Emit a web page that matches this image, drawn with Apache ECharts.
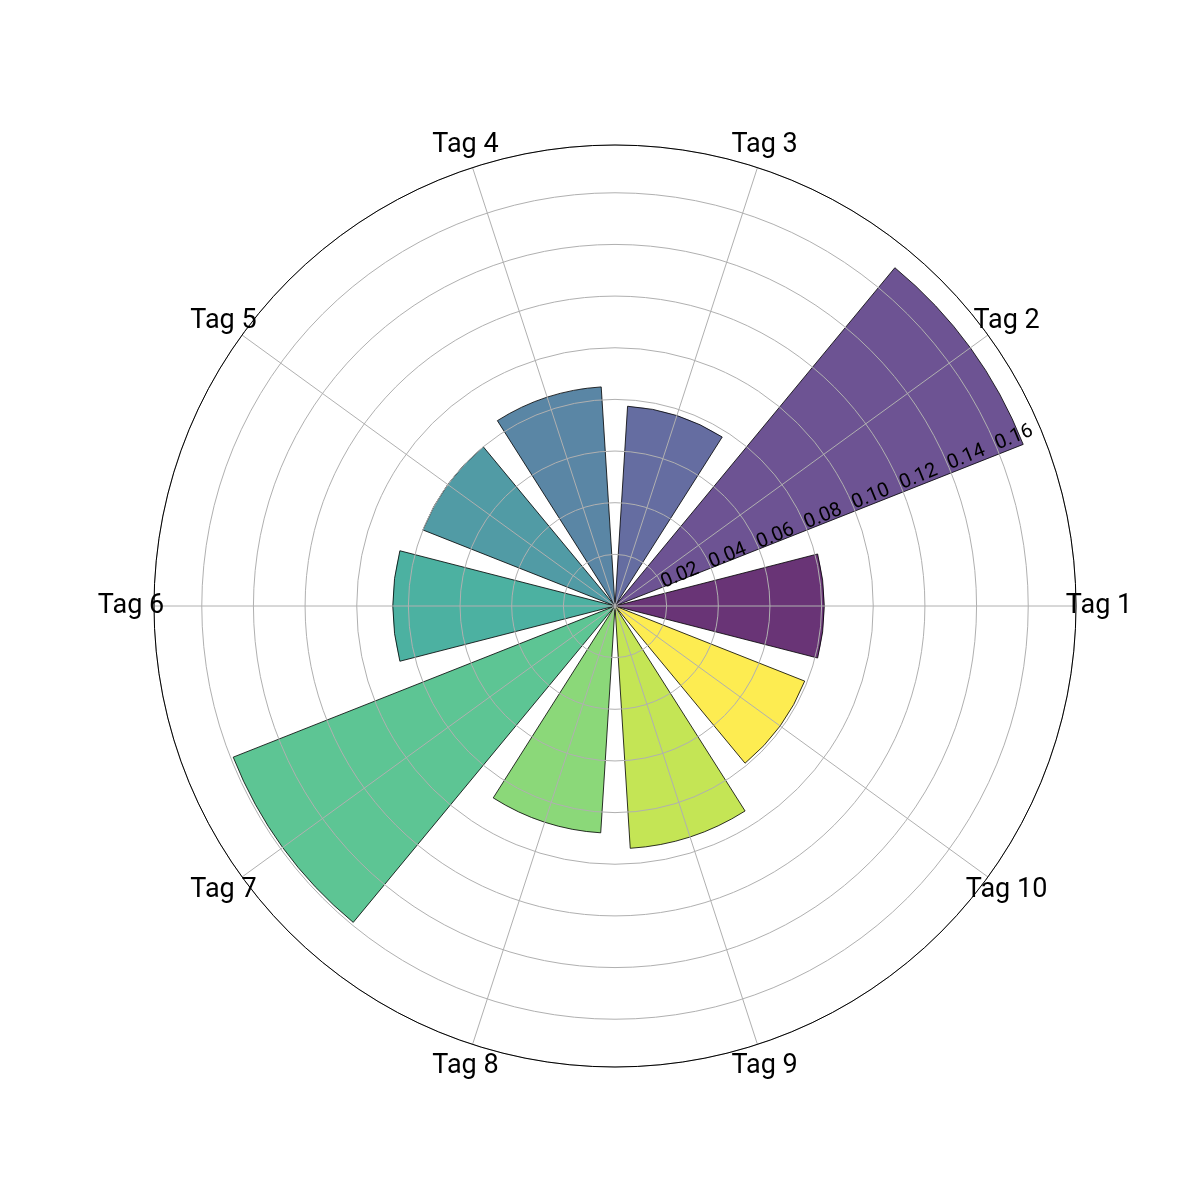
<!DOCTYPE html>
<html>
<head>
<meta charset="utf-8">
<script src="https://cdn.jsdelivr.net/npm/echarts@6/dist/echarts.min.js"></script>
<style>
  html, body { margin: 0; padding: 0; background: #fff; }
  #chart { width: 1200px; height: 1200px; }
</style>
</head>
<body>
<div id="chart"></div>
<script>
var tags = ["Tag 1", "Tag 2", "Tag 3", "Tag 4", "Tag 5", "Tag 6", "Tag 7", "Tag 8", "Tag 9", "Tag 10"];
var values = [0.081, 0.170, 0.0775, 0.085, 0.080, 0.086, 0.159, 0.088, 0.094, 0.079];
// viridis, 10 steps
var colors = ["#440154", "#482878", "#3e4989", "#31688e", "#26828e", "#1f9e89", "#35b779", "#6ece58", "#b5de2b", "#fde725"];
var radiusTicks = [0.02, 0.04, 0.06, 0.08, 0.10, 0.12, 0.14, 0.16];
var rMax = 0.1785;

var CX = 615, CY = 606, R = 461;
// tag labels sit a little outside the rim
var labelR = rMax * (R + 23) / R;

var chart = echarts.init(document.getElementById("chart"));

var option = {
  animation: false,
  backgroundColor: "#fff",
  textStyle: { fontFamily: "Roboto" },
  polar: [
    { center: [CX, CY], radius: R },   // bars
    { center: [CX, CY], radius: R },   // grid
    { center: [CX, CY], radius: R }    // radial tick labels
  ],
  angleAxis: [
    {
      polarIndex: 0,
      type: "category",
      data: tags,
      startAngle: -18,
      clockwise: false,
      z: 4,
      axisLine: { show: true, lineStyle: { color: "#000", width: 1 } },
      axisTick: { show: false },
      axisLabel: { show: false },
      splitLine: { show: false }
    },
    {
      polarIndex: 1,
      type: "value",
      min: 0,
      max: 360,
      interval: 36,
      startAngle: 0,
      clockwise: false,
      z: 3,
      axisLine: { show: false },
      axisTick: { show: false },
      axisLabel: { show: false },
      splitLine: { show: true, lineStyle: { color: "#b0b0b0", width: 1 } }
    },
    {
      polarIndex: 2,
      type: "value",
      min: 0,
      max: 360,
      startAngle: 22.5,
      clockwise: false,
      show: false
    }
  ],
  radiusAxis: [
    {
      polarIndex: 0,
      type: "value",
      min: 0,
      max: rMax,
      show: false
    },
    {
      polarIndex: 1,
      type: "value",
      min: 0,
      max: rMax,
      interval: 0.02,
      z: 3,
      axisLine: { show: false },
      axisTick: { show: false },
      axisLabel: { show: false },
      splitLine: { show: true, lineStyle: { color: "#b0b0b0", width: 1 } }
    },
    {
      polarIndex: 2,
      type: "value",
      min: 0,
      max: rMax,
      interval: 0.02,
      z: 5,
      axisLine: { show: false },
      axisTick: { show: false },
      splitLine: { show: false },
      axisLabel: {
        show: true,
        customValues: radiusTicks,
        rotate: 22.5,
        margin: 3,
        color: "#000",
        fontSize: 20,
        fontFamily: "Roboto",
        align: "center",
        verticalAlign: "middle",
        padding: [0, 0, 0, 40],
        formatter: function (v) { return v.toFixed(2); }
      }
    }
  ],
  series: [
    {
      type: "bar",
      coordinateSystem: "polar",
      polarIndex: 0,
      barWidth: "80%",
      data: values.map(function (v, i) {
        return {
          value: v,
          itemStyle: {
            color: colors[i],
            opacity: 0.8,
            borderColor: "#000",
            borderWidth: 1
          }
        };
      })
    },
    {
      // category names around the rim, centred on each direction
      type: "scatter",
      coordinateSystem: "polar",
      polarIndex: 0,
      clip: false,
      symbolSize: 1,
      silent: true,
      z: 6,
      itemStyle: { color: "rgba(0,0,0,0)" },
      label: {
        show: true,
        position: "inside",
        color: "#000",
        opacity: 1,
        textBorderWidth: 0,
        fontSize: 27,
        fontFamily: "Roboto",
        formatter: function (p) { return p.data[1]; }
      },
      data: tags.map(function (t) { return [labelR, t]; })
    }
  ]
};

chart.setOption(option);
</script>
</body>
</html>
